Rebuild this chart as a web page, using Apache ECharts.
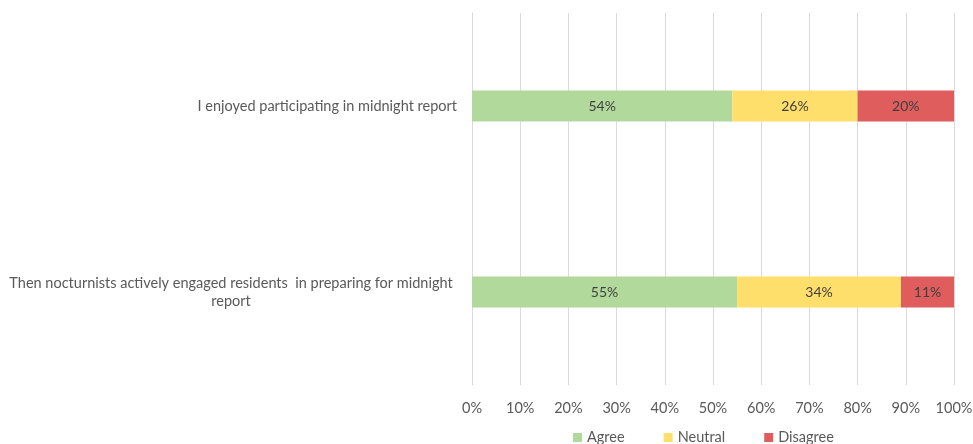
<!DOCTYPE html>
<html><head><meta charset="utf-8">
<script src="https://cdn.jsdelivr.net/npm/echarts@6/dist/echarts.min.js"></script>
<style>html,body{margin:0;padding:0;background:#fff}#c{width:973px;height:444px}</style>
</head><body><div id="c"></div>
<script>
const categories = ["Then nocturnists actively engaged residents  in preparing for midnight report", "I enjoyed participating in midnight report"];
const agree = [55, 54];
const neutral = [34, 26];
const disagree = [11, 20];
const tickLabels = ["0%","10%","20%","30%","40%","50%","60%","70%","80%","90%","100%"];

const chart = echarts.init(document.getElementById('c'));
const font = 'Lato, "Open Sans", sans-serif';
const fs = 14.5;
function mk(name, data, color) {
  return {
    name, type: 'bar', stack: 'total', data, barWidth: 31,
    itemStyle: { color },
    label: { show: true, position: 'inside', formatter: p => p.value + '%', color: '#404040', fontSize: 14, fontFamily: font }
  };
}
chart.setOption({
  animation: false,
  grid: { left: 472, right: 19, top: 13, bottom: 59, containLabel: false, outerBoundsMode: 'none' },
  xAxis: {
    type: 'value', min: 0, max: 100, interval: 10,
    axisLabel: { formatter: v => tickLabels[v / 10], color: '#595959', fontSize: fs, fontFamily: font, margin: 16 },
    splitLine: { show: true, lineStyle: { color: '#d9d9d9', width: 1 } },
    axisLine: { show: false }, axisTick: { show: false }
  },
  yAxis: {
    type: 'category', data: categories,
    axisLine: { show: true, lineStyle: { color: '#d9d9d9' } }, axisTick: { show: false },
    axisLabel: {
      color: '#595959', fontSize: fs, fontFamily: font, margin: 15,
      formatter: v => v.startsWith('Then') ? '{c|Then nocturnists actively engaged residents  in preparing for midnight}\n{c|report}' : v,
      rich: { c: { width: 452, align: 'center', color: '#595959', fontSize: fs, fontFamily: font, lineHeight: 18 } }
    }
  },
  legend: {
    left: 568, top: 425, itemWidth: 9, itemHeight: 9, icon: 'rect', itemGap: 39,
    textStyle: { color: '#595959', fontSize: fs, fontFamily: font }
  },
  series: [mk('Agree', agree, '#b1d99b'), mk('Neutral', neutral, '#ffdf6b'), mk('Disagree', disagree, '#df5d5d')]
});
</script></body></html>
